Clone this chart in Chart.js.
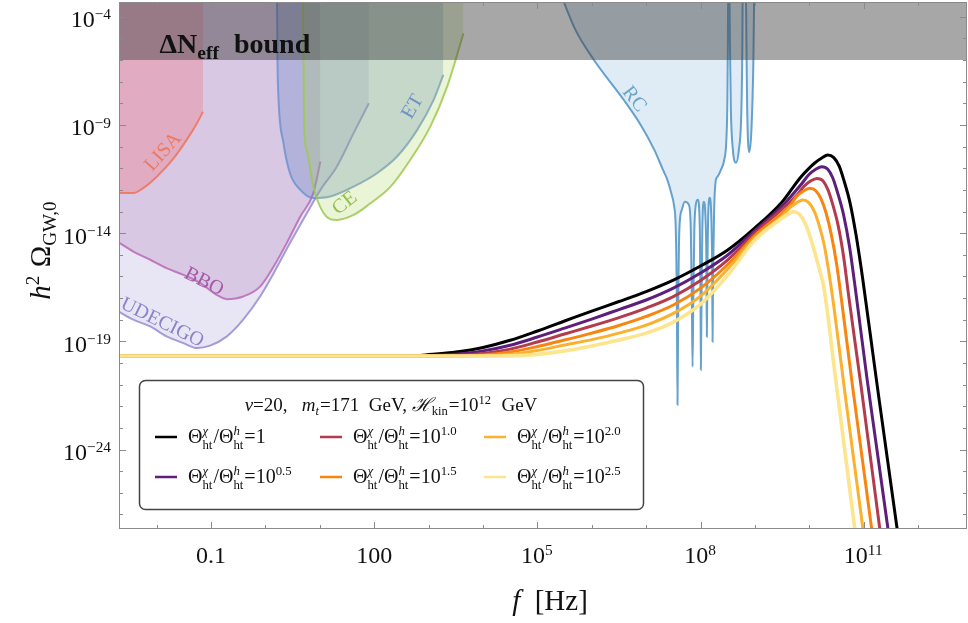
<!DOCTYPE html>
<html>
<head>
<meta charset="utf-8">
<script src="https://cdn.jsdelivr.net/npm/chart.js@4.4.1/dist/chart.umd.min.js"></script>
<style>
  html, body { margin: 0; padding: 0; background: #fff; }
  canvas { display: block; }
</style>
</head>
<body>
<canvas id="gwChart" width="968" height="623"></canvas>
<script>
// every value below is log10 of the quantity
const fMinExp = -2.694, fMaxExp = 12.9;
const omegaMinExp = -27.67, omegaMaxExp = -3.32;
const nEffBoundExp = -6.0;

const xTickExps = [-1, 2, 5, 8, 11];
const xTickLabels = ['0.1', '100', '10^5', '10^8', '10^11'];
const yTickExps = [-4, -9, -14, -19, -24];
const yTickLabels = ['10^−4', '10^−9', '10^−14', '10^−19', '10^−24'];

// GW spectra, Theta_chi/Theta_h = 1, 10^0.5, ... 10^2.5
const ratioLabels = ['1', '10^0.5', '10^1.0', '10^1.5', '10^2.0', '10^2.5'];
const curveColors = ['#000000', '#5d1f79', '#b33b4e', '#f8850f', '#fcb12e', '#fde58d'];

const riseLogF = [-2.75, 0, 2, 2.85, 3, 3.5, 4, 4.5, 5, 5.5, 6, 6.5, 7, 7.5, 8, 8.5, 9, 9.5];
const riseLogOmega = [
  [-19.68, -19.68, -19.68, -19.65, -19.61, -19.49, -19.28, -18.95, -18.52, -18.06, -17.60, -17.16, -16.70, -16.17, -15.52, -14.78, -13.76, -12.56],
  [-19.68, -19.68, -19.68, -19.68, -19.66, -19.59, -19.44, -19.18, -18.80, -18.39, -17.97, -17.53, -17.09, -16.54, -15.84, -15.01, -13.88, -12.75],
  [-19.68, -19.68, -19.68, -19.68, -19.68, -19.65, -19.56, -19.36, -19.03, -18.66, -18.29, -17.90, -17.46, -16.93, -16.19, -15.24, -13.99, -12.89],
  [-19.68, -19.68, -19.68, -19.68, -19.68, -19.68, -19.63, -19.49, -19.24, -18.94, -18.62, -18.27, -17.85, -17.32, -16.54, -15.45, -14.11, -13.07],
  [-19.68, -19.68, -19.68, -19.68, -19.68, -19.68, -19.67, -19.60, -19.42, -19.17, -18.92, -18.62, -18.25, -17.71, -16.91, -15.66, -14.23, -13.21],
  [-19.68, -19.68, -19.68, -19.68, -19.68, -19.68, -19.68, -19.67, -19.60, -19.44, -19.21, -18.94, -18.62, -18.11, -17.28, -15.94, -14.32, -13.30]
];
const tailLogF = [
  [9.83, 9.98, 10.10, 10.23, 10.34, 10.45, 10.55, 10.64, 10.75, 10.86, 10.98, 11.21, 11.63, 11.70],
  [9.86, 9.99, 10.12, 10.23, 10.34, 10.43, 10.52, 10.63, 10.74, 10.85, 11.06, 11.45, 11.52],
  [9.77, 9.90, 10.03, 10.14, 10.25, 10.34, 10.43, 10.53, 10.63, 10.73, 10.95, 11.30, 11.37],
  [9.65, 9.77, 9.90, 10.01, 10.12, 10.22, 10.31, 10.40, 10.50, 10.60, 10.80, 11.15, 11.22],
  [9.66, 9.77, 9.88, 9.99, 10.09, 10.18, 10.27, 10.36, 10.46, 10.66, 10.99, 11.07],
  [9.60, 9.71, 9.82, 9.92, 10.01, 10.11, 10.20, 10.26, 10.34, 10.44, 10.84, 10.91]
];
const tailLogOmega = [
  [-11.45, -11.04, -10.76, -10.53, -10.39, -10.51, -10.90, -11.59, -12.61, -14.09, -16.07, -20.33, -27.93, -29.1],
  [-11.72, -11.30, -11.05, -10.93, -11.05, -11.44, -12.13, -13.15, -14.63, -16.63, -20.70, -27.72, -29.1],
  [-12.25, -11.84, -11.58, -11.47, -11.58, -11.98, -12.67, -13.64, -15.07, -17.01, -21.03, -27.72, -29.1],
  [-12.71, -12.30, -12.04, -11.93, -12.04, -12.44, -13.08, -14.01, -15.39, -17.24, -21.17, -27.72, -29.1],
  [-12.79, -12.59, -12.47, -12.59, -12.98, -13.63, -14.50, -15.80, -17.55, -21.48, -27.72, -29.1],
  [-13.13, -13.01, -13.13, -13.53, -14.13, -14.97, -15.80, -16.40, -17.78, -19.86, -27.72, -29.1]
];

// detector sensitivity curves
const lisaLogF = [-2.75, -2.43, -2.25, -2.0, -1.69, -1.45, -1.26, -1.15];
const lisaLogOmega = [-12.15, -12.15, -11.92, -11.39, -10.54, -9.69, -8.92, -8.39];

const bboLogF = [-2.75, -2.43, -2.12, -1.82, -1.51, -1.20, -0.90, -0.71, -0.41, -0.10, 0.15, 0.39, 0.64, 0.88, 1.01];
const bboLogOmega = [-14.35, -14.85, -15.23, -15.62, -15.93, -16.31, -16.85, -17.05, -16.93, -16.47, -15.54, -14.46, -13.23, -12.15, -10.69];

const udecigoLogF = [-2.75, -2.43, -2.12, -1.82, -1.51, -1.26, -1.02, -0.71, -0.41, -0.10, 0.15, 0.45, 0.76, 1.01, 1.31, 1.62, 1.90];
const udecigoLogOmega = [-17.55, -18.00, -18.31, -18.77, -19.08, -19.31, -19.20, -18.77, -18.00, -16.93, -15.85, -14.46, -13.08, -12.00, -10.93, -9.38, -8.00];

const etLogF = [0.21, 0.22, 0.24, 0.33, 0.45, 0.64, 0.88, 1.19, 1.62, 2.05, 2.42, 2.79, 3.09, 3.27];
const etLogOmega = [-2.77, -6.00, -7.85, -9.84, -11.23, -12.00, -12.38, -12.31, -11.85, -11.23, -10.46, -9.23, -7.85, -6.69];

const ceLogF = [0.69, 0.70, 0.71, 0.76, 0.88, 1.07, 1.31, 1.62, 1.93, 2.30, 2.66, 3.03, 3.34, 3.64];
const ceLogOmega = [-2.77, -6.31, -9.08, -10.15, -11.85, -13.08, -13.39, -13.16, -12.62, -11.85, -10.62, -9.08, -7.23, -4.77];

const rcLogF = [5.40, 5.70, 6.04, 6.59, 6.90, 7.15, 7.31, 7.39, 7.47, 7.51, 7.545, 7.564, 7.576, 7.591, 7.610,
  7.656, 7.711, 7.785, 7.821, 7.840, 7.853, 7.867, 7.886, 7.913, 7.950, 7.987, 8.000, 8.006, 8.018, 8.033,
  8.061, 8.088, 8.107, 8.116, 8.129, 8.144, 8.171, 8.199, 8.214, 8.221, 8.232, 8.250, 8.282, 8.313, 8.374,
  8.435, 8.475, 8.494, 8.503, 8.508, 8.530, 8.540, 8.558, 8.595, 8.650, 8.705, 8.751, 8.770, 8.775,
  8.834, 8.843, 8.858, 8.895, 8.936, 8.972, 8.987];
const rcLogOmega = [-2.77, -4.61, -6.00, -7.85, -9.00, -10.15, -11.08, -11.54, -12.23, -12.69, -13.85, -17.08, -21.93, -17.08, -13.85,
  -12.92, -12.55, -12.69, -13.85, -17.08, -20.17, -17.08, -13.85, -12.69, -12.46, -13.85, -17.08, -20.31, -17.08, -13.85,
  -12.55, -13.16, -15.23, -18.79, -15.23, -12.92, -12.37, -13.39, -15.69, -19.02, -15.69, -12.92, -11.54, -11.39, -11.08,
  -10.62, -9.69, -7.85, -5.08, -2.77, -2.77, -5.08, -8.31, -10.15, -10.75, -10.15, -8.31, -5.08, -2.77,
  -2.77, -5.08, -8.31, -10.25, -9.23, -6.00, -2.77];

// detector labels
const detectorNames = ['LISA', 'BBO', 'UDECIGO', 'CE', 'ET', 'RC'];
const detectorLabelLogF = [-1.88, -1.13, -1.90, 1.46, 2.71, 6.78];
const detectorLabelLogOmega = [-10.25, -16.25, -18.14, -12.62, -8.16, -7.82];
const boundLabelLogF = -1.95, boundLabelLogOmega = -5.68;

// styles
const SERIF = '"Liberation Serif", "DejaVu Serif", serif';
const labelAngles = [-48, 27, 26, -38, -60, 52];
const labelColors = ['#ec7a62', '#a45aa6', '#8a83cc', '#98bf4c', '#6f93c8', '#6aa5cc'];

function pts(fs, os) {
  return fs.map((f, i) => ({ x: Math.pow(10, f), y: Math.pow(10, os[i]) }));
}

function detector(fs, os, line, fill, order) {
  return {
    data: pts(fs, os), borderColor: line, backgroundColor: fill, borderWidth: 2,
    fill: 'end', pointRadius: 0, cubicInterpolationMode: 'monotone', order: order
  };
}

const datasets = [];
datasets.push({
  data: pts([fMinExp - 0.1, fMaxExp + 0.1], [nEffBoundExp, nEffBoundExp]),
  borderWidth: 0, borderColor: 'rgba(0,0,0,0)', backgroundColor: 'rgba(60,60,60,0.45)',
  fill: 'end', pointRadius: 0, order: 0
});
curveColors.forEach((c, i) => {
  datasets.push({
    data: pts(riseLogF.concat(tailLogF[i]), riseLogOmega[i].concat(tailLogOmega[i])),
    borderColor: c, borderWidth: i === 5 ? 3.6 : 3, fill: false, pointRadius: 0,
    cubicInterpolationMode: 'monotone', order: 6 - i
  });
});
datasets.push(detector(rcLogF, rcLogOmega, 'rgba(85,152,200,0.9)', 'rgba(110,170,215,0.22)', 7));
datasets.push(detector(ceLogF, ceLogOmega, 'rgba(160,200,80,0.85)', 'rgba(170,210,90,0.25)', 8));
datasets.push(detector(etLogF, etLogOmega, 'rgba(100,140,205,0.75)', 'rgba(90,130,200,0.3)', 9));
datasets.push(detector(lisaLogF, lisaLogOmega, 'rgba(240,115,90,0.85)', 'rgba(240,115,120,0.33)', 10));
datasets.push(detector(bboLogF, bboLogOmega, 'rgba(180,100,180,0.8)', 'rgba(170,110,180,0.25)', 11));
datasets.push(detector(udecigoLogF, udecigoLogOmega, 'rgba(150,140,210,0.85)', 'rgba(140,130,200,0.2)', 12));

// text with super/subscripts: "a^b" strings or explicit runs
function fnt(size, it, b) {
  return (it ? 'italic ' : '') + (b ? 'bold ' : '') + size + 'px ' + SERIF;
}
function powRuns(s) {
  const k = s.indexOf('^');
  if (k < 0) return [{ t: s }];
  return [{ t: s.slice(0, k) }, { sup: s.slice(k + 1) }];
}
function runW(ctx, r, size, sc) {
  if (r.t !== undefined) { ctx.font = fnt(size, r.it, r.b); return ctx.measureText(r.t).width; }
  let w = 0;
  if (r.sup) { ctx.font = fnt(size * sc, r.supIt, r.b); w = Math.max(w, ctx.measureText(r.sup).width); }
  if (r.sub) { ctx.font = fnt(size * sc, r.subIt, r.b); w = Math.max(w, ctx.measureText(r.sub).width); }
  return w + 1;
}
function drawRuns(ctx, runs, x, y, size, align, color, sc, raise, drop) {
  sc = sc || 0.66; raise = raise || 0.38; drop = drop || 0.22;
  let w = 0;
  runs.forEach(r => { w += runW(ctx, r, size, sc); });
  let cx = align === 'center' ? x - w / 2 : align === 'right' ? x - w : x;
  ctx.fillStyle = color; ctx.textAlign = 'left'; ctx.textBaseline = 'alphabetic';
  runs.forEach(r => {
    const rw = runW(ctx, r, size, sc);
    if (r.t !== undefined) {
      ctx.font = fnt(size, r.it, r.b); ctx.fillText(r.t, cx, y);
    } else {
      if (r.sup) { ctx.font = fnt(size * sc, r.supIt, r.b); ctx.fillText(r.sup, cx, y - size * raise); }
      if (r.sub) { ctx.font = fnt(size * sc, r.subIt, r.b); ctx.fillText(r.sub, cx, y + size * drop); }
    }
    cx += rw;
  });
}

const decorPlugin = {
  id: 'decor',
  afterDraw(chart) {
    const ctx = chart.ctx, a = chart.chartArea;
    const xs = chart.scales.x, ys = chart.scales.y;
    const X = e => xs.getPixelForValue(Math.pow(10, e));
    const Y = e => ys.getPixelForValue(Math.pow(10, e));
    ctx.save();

    // labels inside the plot
    ctx.save();
    ctx.beginPath(); ctx.rect(a.left, a.top, a.right - a.left, a.bottom - a.top); ctx.clip();
    detectorNames.forEach((name, i) => {
      ctx.save();
      ctx.translate(X(detectorLabelLogF[i]), Y(detectorLabelLogOmega[i]));
      ctx.rotate(labelAngles[i] * Math.PI / 180);
      ctx.font = '20px ' + SERIF; ctx.fillStyle = labelColors[i];
      ctx.textAlign = 'center'; ctx.textBaseline = 'middle';
      ctx.fillText(name, 0, 0);
      ctx.restore();
    });
    drawRuns(ctx, [{ t: 'ΔN', b: 1 }, { sub: 'eff', b: 1 }, { t: '  bound', b: 1 }],
      X(boundLabelLogF), Y(boundLabelLogOmega), 28, 'left', '#111', 0.7);
    ctx.restore();

    // frame and ticks
    ctx.strokeStyle = '#8a8a8a'; ctx.lineWidth = 1;
    ctx.strokeRect(a.left + 0.5, a.top + 0.5, a.right - a.left - 1, a.bottom - a.top - 1);
    ctx.beginPath();
    for (let e = Math.ceil(fMinExp); e <= Math.floor(fMaxExp); e++) {
      const px = Math.round(X(e)) + 0.5, len = xTickExps.includes(e) ? 7 : 4;
      ctx.moveTo(px, a.bottom); ctx.lineTo(px, a.bottom - len);
      ctx.moveTo(px, a.top); ctx.lineTo(px, a.top + len);
    }
    for (let e = Math.ceil(omegaMinExp); e <= Math.floor(omegaMaxExp); e++) {
      const py = Math.round(Y(e)) + 0.5, len = yTickExps.includes(e) ? 7 : 4;
      ctx.moveTo(a.left, py); ctx.lineTo(a.left + len, py);
      ctx.moveTo(a.right, py); ctx.lineTo(a.right - len, py);
    }
    ctx.stroke();

    // tick labels
    xTickExps.forEach((e, i) => {
      drawRuns(ctx, powRuns(xTickLabels[i]), X(e), 563, 24, 'center', '#111', 0.64, 0.33);
    });
    yTickExps.forEach((e, i) => {
      drawRuns(ctx, powRuns(yTickLabels[i]), 112, Y(e) + 10.5, 24, 'right', '#111', 0.64, 0.33);
    });

    // axis titles
    drawRuns(ctx, [{ t: 'f', it: 1 }, { t: '  [Hz]' }], 550, 610, 29, 'center', '#111');
    ctx.save();
    ctx.translate(50, 250); ctx.rotate(-Math.PI / 2);
    drawRuns(ctx, [{ t: 'h', it: 1 }, { sup: '2' }, { t: ' Ω' }, { sub: 'GW,0' }], 0, 0, 29, 'center', '#111');
    ctx.restore();

    // legend
    ctx.beginPath();
    ctx.roundRect(139.5, 380.5, 504, 129, 6);
    ctx.fillStyle = '#fff'; ctx.fill();
    ctx.strokeStyle = '#444'; ctx.lineWidth = 1.5; ctx.stroke();
    drawRuns(ctx, [{ t: 'ν', it: 1 }, { t: '=20,   ' }, { t: 'm', it: 1 }, { sub: 't', subIt: 1 },
      { t: '=171  GeV, ' }, { t: 'ℋ', it: 1 }, { sub: 'kin' }, { t: '=10' }, { sup: '12' }, { t: '  GeV' }],
      391, 411, 19, 'center', '#111');
    const colX = [155, 320, 484], rowY = [437, 477];
    curveColors.forEach((c, i) => {
      const lx = colX[Math.floor(i / 2)], ly = rowY[i % 2];
      ctx.beginPath(); ctx.strokeStyle = c; ctx.lineWidth = 2.5;
      ctx.moveTo(lx, ly); ctx.lineTo(lx + 22, ly); ctx.stroke();
      const runs = [{ t: 'Θ' }, { sup: 'χ', sub: 'ht', supIt: 1 }, { t: '/Θ' }, { sup: 'h', sub: 'ht', supIt: 1 }, { t: '=' }]
        .concat(powRuns(ratioLabels[i]));
      drawRuns(ctx, runs, lx + 33, ly + 6, 20, 'left', '#111', 0.64, 0.42, 0.3);
    });
    ctx.restore();
  }
};

new Chart(document.getElementById('gwChart'), {
  type: 'line',
  data: { datasets: datasets },
  options: {
    responsive: false,
    devicePixelRatio: 1,
    animation: false,
    layout: { padding: { left: 119, right: 1, top: 2, bottom: 94 } },
    plugins: { legend: { display: false }, tooltip: { enabled: false } },
    scales: {
      x: { type: 'logarithmic', min: Math.pow(10, fMinExp), max: Math.pow(10, fMaxExp), display: false },
      y: { type: 'logarithmic', min: Math.pow(10, omegaMinExp), max: Math.pow(10, omegaMaxExp), display: false }
    }
  },
  plugins: [decorPlugin]
});
</script>
</body>
</html>
